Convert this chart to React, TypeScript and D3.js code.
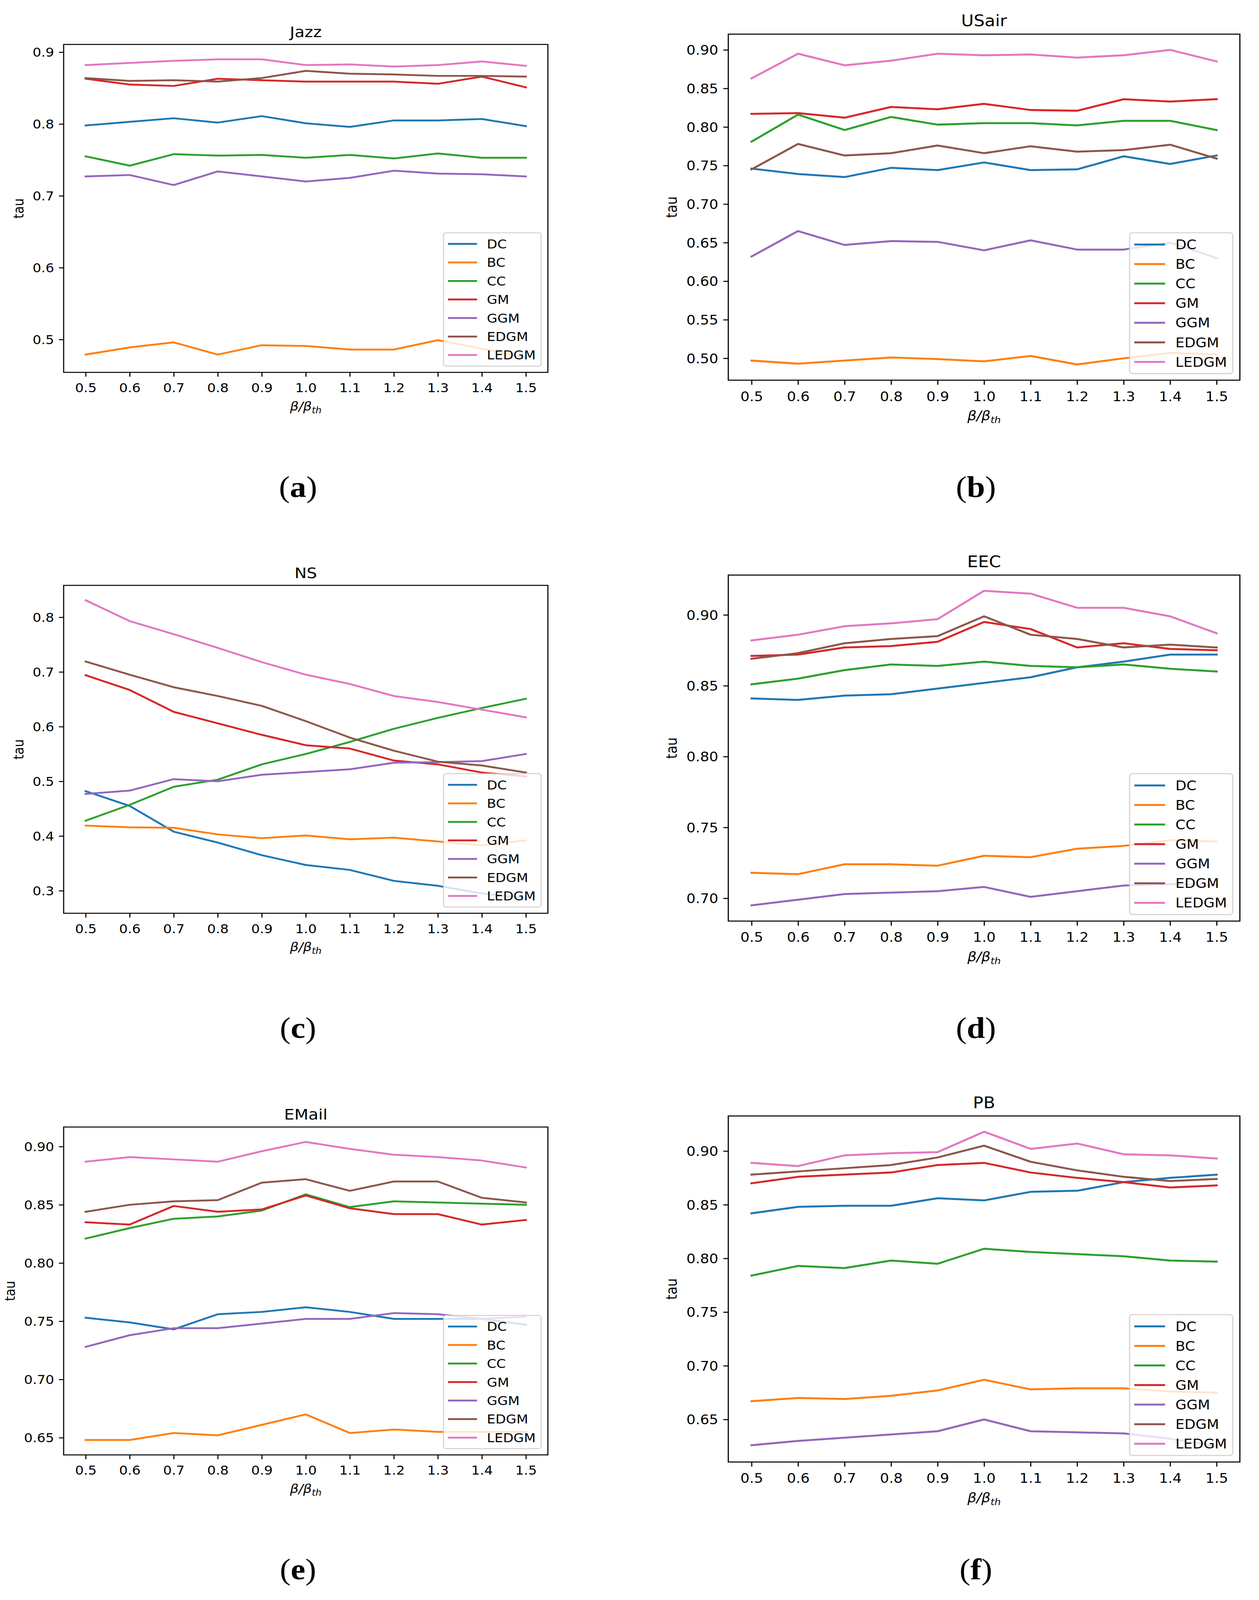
import React, { useRef, useEffect } from "react";
import * as d3 from "d3";

// ── Data ──────────────────────────────────────────────────────────────────────

const METHODS = ["DC", "BC", "CC", "GM", "GGM", "EDGM", "LEDGM"];
const METHOD_COLORS = ["#1f77b4", "#ff7f0e", "#2ca02c", "#d62728", "#9467bd", "#8c564b", "#e377c2"];
const BETA = [0.5, 0.6, 0.7, 0.8, 0.9, 1.0, 1.1, 1.2, 1.3, 1.4, 1.5];

// rows follow METHODS order
const JAZZ_TAU = [
  [0.798, 0.803, 0.808, 0.802, 0.811, 0.801, 0.796, 0.805, 0.805, 0.807, 0.797],
  [0.479, 0.489, 0.496, 0.479, 0.492, 0.491, 0.486, 0.486, 0.499, 0.487, 0.475],
  [0.755, 0.742, 0.758, 0.756, 0.757, 0.753, 0.757, 0.752, 0.759, 0.753, 0.753],
  [0.863, 0.855, 0.853, 0.863, 0.861, 0.859, 0.859, 0.859, 0.856, 0.866, 0.851],
  [0.727, 0.729, 0.715, 0.734, 0.727, 0.72, 0.725, 0.735, 0.731, 0.73, 0.727],
  [0.864, 0.86, 0.861, 0.859, 0.864, 0.874, 0.87, 0.869, 0.867, 0.867, 0.866],
  [0.882, 0.885, 0.888, 0.89, 0.89, 0.882, 0.883, 0.88, 0.882, 0.887, 0.881],
];

const USAIR_TAU = [
  [0.746, 0.739, 0.735, 0.747, 0.744, 0.754, 0.744, 0.745, 0.762, 0.752, 0.763],
  [0.497, 0.493, 0.497, 0.501, 0.499, 0.496, 0.503, 0.492, 0.5, 0.507, 0.505],
  [0.781, 0.816, 0.796, 0.813, 0.803, 0.805, 0.805, 0.802, 0.808, 0.808, 0.796],
  [0.817, 0.818, 0.812, 0.826, 0.823, 0.83, 0.822, 0.821, 0.836, 0.833, 0.836],
  [0.632, 0.665, 0.647, 0.652, 0.651, 0.64, 0.653, 0.641, 0.641, 0.65, 0.63],
  [0.745, 0.778, 0.763, 0.766, 0.776, 0.766, 0.775, 0.768, 0.77, 0.777, 0.759],
  [0.863, 0.895, 0.88, 0.886, 0.895, 0.893, 0.894, 0.89, 0.893, 0.9, 0.885],
];

const NS_TAU = [
  [0.482, 0.455, 0.408, 0.388, 0.365, 0.347, 0.338, 0.318, 0.309, 0.295, 0.286],
  [0.419, 0.416, 0.415, 0.403, 0.396, 0.401, 0.394, 0.397, 0.39, 0.383, 0.392],
  [0.428, 0.457, 0.49, 0.503, 0.531, 0.55, 0.572, 0.596, 0.616, 0.634, 0.651],
  [0.694, 0.667, 0.627, 0.606, 0.585, 0.566, 0.56, 0.538, 0.531, 0.516, 0.509],
  [0.477, 0.483, 0.504, 0.5, 0.512, 0.517, 0.522, 0.534, 0.535, 0.537, 0.55],
  [0.719, 0.695, 0.672, 0.656, 0.638, 0.61, 0.58, 0.556, 0.536, 0.529, 0.516],
  [0.831, 0.793, 0.769, 0.744, 0.718, 0.695, 0.678, 0.656, 0.645, 0.631, 0.617],
];

const EEC_TAU = [
  [0.841, 0.84, 0.843, 0.844, 0.848, 0.852, 0.856, 0.863, 0.867, 0.872, 0.872],
  [0.718, 0.717, 0.724, 0.724, 0.723, 0.73, 0.729, 0.735, 0.737, 0.741, 0.74],
  [0.851, 0.855, 0.861, 0.865, 0.864, 0.867, 0.864, 0.863, 0.865, 0.862, 0.86],
  [0.871, 0.872, 0.877, 0.878, 0.881, 0.895, 0.89, 0.877, 0.88, 0.876, 0.875],
  [0.695, 0.699, 0.703, 0.704, 0.705, 0.708, 0.701, 0.705, 0.709, 0.71, 0.709],
  [0.869, 0.873, 0.88, 0.883, 0.885, 0.899, 0.886, 0.883, 0.877, 0.879, 0.877],
  [0.882, 0.886, 0.892, 0.894, 0.897, 0.917, 0.915, 0.905, 0.905, 0.899, 0.887],
];

const EMAIL_TAU = [
  [0.753, 0.749, 0.743, 0.756, 0.758, 0.762, 0.758, 0.752, 0.752, 0.752, 0.747],
  [0.648, 0.648, 0.654, 0.652, 0.661, 0.67, 0.654, 0.657, 0.655, 0.655, 0.655],
  [0.821, 0.83, 0.838, 0.84, 0.845, 0.859, 0.848, 0.853, 0.852, 0.851, 0.85],
  [0.835, 0.833, 0.849, 0.844, 0.846, 0.858, 0.847, 0.842, 0.842, 0.833, 0.837],
  [0.728, 0.738, 0.744, 0.744, 0.748, 0.752, 0.752, 0.757, 0.756, 0.752, 0.754],
  [0.844, 0.85, 0.853, 0.854, 0.869, 0.872, 0.862, 0.87, 0.87, 0.856, 0.852],
  [0.887, 0.891, 0.889, 0.887, 0.896, 0.904, 0.898, 0.893, 0.891, 0.888, 0.882],
];

const PB_TAU = [
  [0.842, 0.848, 0.849, 0.849, 0.856, 0.854, 0.862, 0.863, 0.871, 0.875, 0.878],
  [0.667, 0.67, 0.669, 0.672, 0.677, 0.687, 0.678, 0.679, 0.679, 0.676, 0.675],
  [0.784, 0.793, 0.791, 0.798, 0.795, 0.809, 0.806, 0.804, 0.802, 0.798, 0.797],
  [0.87, 0.876, 0.878, 0.88, 0.887, 0.889, 0.88, 0.875, 0.871, 0.866, 0.868],
  [0.626, 0.63, 0.633, 0.636, 0.639, 0.65, 0.639, 0.638, 0.637, 0.632, 0.625],
  [0.878, 0.881, 0.884, 0.887, 0.894, 0.905, 0.89, 0.882, 0.876, 0.872, 0.874],
  [0.889, 0.886, 0.896, 0.898, 0.899, 0.918, 0.902, 0.907, 0.897, 0.896, 0.893],
];

const TICKS_JAZZ = [0.5, 0.6, 0.7, 0.8, 0.9];
const TICKS_USAIR = [0.5, 0.55, 0.6, 0.65, 0.7, 0.75, 0.8, 0.85, 0.9];
const TICKS_NS = [0.3, 0.4, 0.5, 0.6, 0.7, 0.8];
const TICKS_EEC = [0.7, 0.75, 0.8, 0.85, 0.9];
const TICKS_EMAIL = [0.65, 0.7, 0.75, 0.8, 0.85, 0.9];
const TICKS_PB = [0.65, 0.7, 0.75, 0.8, 0.85, 0.9];

// ── Layout ────────────────────────────────────────────────────────────────────

interface PanelSpec {
  title: string;
  tag: string;
  tau: number[][];
  yTicks: number[];
  yFmt: string;
  x: number;
  y: number;
  w: number;
  h: number;
  tagY: number;
}

const PANELS: PanelSpec[] = [
  { title: "Jazz", tag: "a", tau: JAZZ_TAU, yTicks: TICKS_JAZZ, yFmt: ".1f", x: 163, y: 125, w: 1240, h: 922, tagY: 1397 },
  { title: "USair", tag: "b", tau: USAIR_TAU, yTicks: TICKS_USAIR, yFmt: ".2f", x: 1865, y: 96, w: 1310, h: 973, tagY: 1397 },
  { title: "NS", tag: "c", tau: NS_TAU, yTicks: TICKS_NS, yFmt: ".1f", x: 163, y: 1646, w: 1240, h: 922, tagY: 2918 },
  { title: "EEC", tag: "d", tau: EEC_TAU, yTicks: TICKS_EEC, yFmt: ".2f", x: 1865, y: 1617, w: 1310, h: 973, tagY: 2918 },
  { title: "EMail", tag: "e", tau: EMAIL_TAU, yTicks: TICKS_EMAIL, yFmt: ".2f", x: 163, y: 3169, w: 1240, h: 922, tagY: 4441 },
  { title: "PB", tag: "f", tau: PB_TAU, yTicks: TICKS_PB, yFmt: ".2f", x: 1865, y: 3138, w: 1310, h: 973, tagY: 4441 },
];

// design size; the svg is stretched onto whatever the window really is
const WIDTH = 3224;
const HEIGHT = 4499;
const FONT = "DejaVu Sans";

let measureCtx: CanvasRenderingContext2D | null = null;
function textWidth(text: string, size: number, family = FONT): number {
  if (!measureCtx) measureCtx = document.createElement("canvas").getContext("2d");
  if (!measureCtx) return text.length * size * 0.6;
  measureCtx.font = `${size}px "${family}"`;
  return measureCtx.measureText(text).width;
}

// ── Panel drawing ─────────────────────────────────────────────────────────────

function drawPanel(svg: d3.Selection<SVGSVGElement, unknown, null, undefined>, p: PanelSpec, idx: number) {
  const k = p.w / 496; // matplotlib axes width at 100 dpi
  const fs = 13.89 * k;
  const fsTitle = 16.67 * k;
  const lw = 2.083 * k;
  const spine = 1.111 * k;
  const tickLen = 0.35 * fs;

  const g = svg.append("g").attr("transform", `translate(${p.x},${p.y})`);

  const xScale = d3.scaleLinear().domain([0.45, 1.55]).range([0, p.w]);
  const [lo, hi] = d3.extent(p.tau.flat()) as [number, number];
  const pad = (hi - lo) * 0.05;
  const yScale = d3.scaleLinear().domain([lo - pad, hi + pad]).range([p.h, 0]);

  const clipId = `clip-${idx}`;
  g.append("clipPath").attr("id", clipId).append("rect").attr("width", p.w).attr("height", p.h);

  // Lines
  const line = d3
    .line<number>()
    .x((d, i) => xScale(BETA[i]))
    .y((d) => yScale(d));

  const lines = g.append("g").attr("clip-path", `url(#${clipId})`);
  p.tau.forEach((series, i) => {
    lines
      .append("path")
      .datum(series)
      .attr("d", line)
      .attr("fill", "none")
      .attr("stroke", METHOD_COLORS[i])
      .attr("stroke-width", lw)
      .attr("stroke-linejoin", "round")
      .attr("stroke-linecap", "square");
  });

  // Spines
  g.append("rect")
    .attr("width", p.w)
    .attr("height", p.h)
    .attr("fill", "none")
    .attr("stroke", "#000")
    .attr("stroke-width", spine);

  // X axis
  g.append("g")
    .attr("transform", `translate(0,${p.h})`)
    .call(
      d3
        .axisBottom(xScale)
        .tickValues(BETA)
        .tickSize(tickLen)
        .tickPadding(0.54 * fs)
        .tickFormat(d3.format(".1f") as any)
    )
    .call((axis) => {
      axis.select(".domain").remove();
      axis.selectAll(".tick line").attr("stroke", "#000").attr("stroke-width", spine);
      axis.selectAll(".tick text").attr("fill", "#000").attr("font-size", fs).attr("font-family", FONT);
    });

  // Y axis
  const yFormat = d3.format(p.yFmt);
  g.append("g")
    .call(
      d3
        .axisLeft(yScale)
        .tickValues(p.yTicks)
        .tickSize(tickLen)
        .tickPadding(0.35 * fs)
        .tickFormat(yFormat as any)
    )
    .call((axis) => {
      axis.select(".domain").remove();
      axis.selectAll(".tick line").attr("stroke", "#000").attr("stroke-width", spine);
      axis
        .selectAll(".tick text")
        .attr("fill", "#000")
        .attr("font-size", fs)
        .attr("font-family", FONT)
        .attr("dy", "0.36em");
    });

  // Title
  g.append("text")
    .attr("x", p.w / 2)
    .attr("y", -0.5 * fsTitle)
    .attr("text-anchor", "middle")
    .attr("font-family", FONT)
    .attr("font-size", fsTitle)
    .attr("fill", "#000")
    .text(p.title);

  // X label
  const xl = g
    .append("text")
    .attr("x", p.w / 2)
    .attr("y", p.h + 3.08 * fs)
    .attr("text-anchor", "middle")
    .attr("font-family", FONT)
    .attr("font-size", fs)
    .attr("font-style", "italic")
    .attr("fill", "#000");
  xl.append("tspan").text("β/β");
  xl.append("tspan").attr("font-size", fs * 0.7).attr("dy", 0.22 * fs).text("th");

  // Y label
  const maxTickW = d3.max(p.yTicks, (t) => textWidth(yFormat(t), fs)) ?? 0;
  const ylx = -(1.72 * fs + maxTickW);
  g.append("text")
    .attr("transform", `translate(${ylx},${p.h / 2}) rotate(-90)`)
    .attr("y", 0.346 * fs)
    .attr("text-anchor", "middle")
    .attr("font-family", FONT)
    .attr("font-size", fs)
    .attr("fill", "#000")
    .text("tau");

  // Legend (lower right)
  const maxLabelW = d3.max(METHODS, (m) => textWidth(m, fs)) ?? 0;
  const legW = 3.6 * fs + maxLabelW;
  const legH = 0.8 * fs + METHODS.length * fs + (METHODS.length - 1) * 0.5 * fs;
  const legX = p.w - 0.5 * fs - legW;
  const legY = p.h - 0.5 * fs - legH;
  const leg = g.append("g").attr("transform", `translate(${legX},${legY})`);
  leg
    .append("rect")
    .attr("width", legW)
    .attr("height", legH)
    .attr("rx", 0.2 * fs)
    .attr("fill", "#fff")
    .attr("fill-opacity", 0.8)
    .attr("stroke", "#cccccc")
    .attr("stroke-opacity", 0.8)
    .attr("stroke-width", 1.2 * k);

  METHODS.forEach((m, i) => {
    const cy = 0.4 * fs + i * 1.5 * fs + 0.5 * fs;
    leg
      .append("line")
      .attr("x1", 0.4 * fs)
      .attr("x2", 2.4 * fs)
      .attr("y1", cy)
      .attr("y2", cy)
      .attr("stroke", METHOD_COLORS[i])
      .attr("stroke-width", lw)
      .attr("stroke-linecap", "square");
    leg
      .append("text")
      .attr("x", 3.2 * fs)
      .attr("y", cy + 0.365 * fs)
      .attr("font-family", FONT)
      .attr("font-size", fs)
      .attr("fill", "#000")
      .text(m);
  });

  // Sub-figure tag, centred on the figure it belongs to
  const tag = svg
    .append("text")
    .attr("x", p.x + 0.484 * p.w)
    .attr("y", p.tagY)
    .attr("text-anchor", "middle")
    .attr("font-family", "Liberation Serif")
    .attr("font-size", 84)
    .attr("fill", "#000");
  tag.append("tspan").text("(");
  tag.append("tspan").attr("font-weight", "bold").text(p.tag);
  tag.append("tspan").text(")");
}

// ── App ───────────────────────────────────────────────────────────────────────

export default function App() {
  const svgRef = useRef<SVGSVGElement>(null);
  const viewW = typeof window !== "undefined" && window.innerWidth ? window.innerWidth : WIDTH;
  const viewH = typeof window !== "undefined" && window.innerHeight ? window.innerHeight : HEIGHT;

  useEffect(() => {
    if (!svgRef.current) return;
    const svg = d3.select(svgRef.current);
    svg.selectAll("*").remove();
    PANELS.forEach((p, i) => drawPanel(svg, p, i));
  }, []);

  return (
    <div style={{ position: "absolute", left: 0, top: 0, background: "#fff" }}>
      <svg
        ref={svgRef}
        width={viewW}
        height={viewH}
        viewBox={`0 0 ${WIDTH} ${HEIGHT}`}
        preserveAspectRatio="none"
        style={{ display: "block", background: "#fff" }}
      />
    </div>
  );
}
